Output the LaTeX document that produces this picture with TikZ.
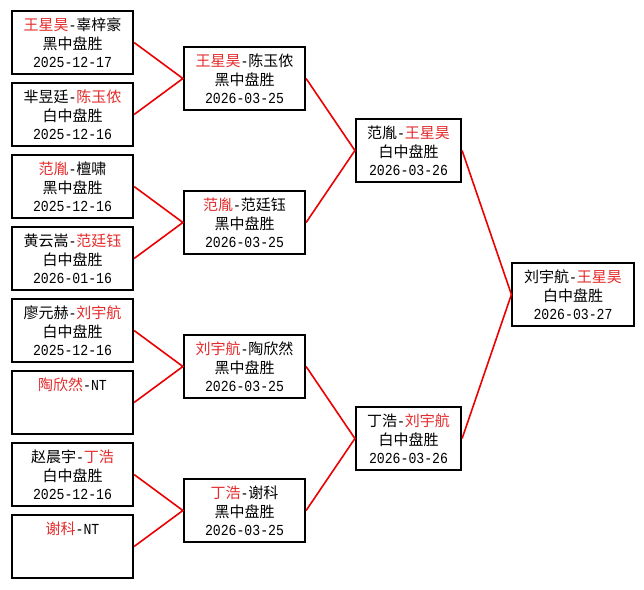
\documentclass[tikz,border=0pt]{standalone}
\usepackage{fontspec}
\setmainfont{Noto Sans CJK SC}
\newfontfamily\monof[FakeStretch=0.86]{Liberation Mono}
\definecolor{wred}{RGB}{228,44,44}
\definecolor{lred}{RGB}{236,0,0}
\newcommand\st{\rule[-1.6pt]{0pt}{16.6pt}}
\newcommand\R[1]{\textcolor{wred}{#1}}
\newcommand\hy{{\monof\fontsize{15.3}{18.5}\selectfont -}}
\newcommand\dt[1]{{\monof\fontsize{15.3}{18.5}\selectfont #1}}
\newcommand\card[3]{\st#1\\\st#2\\\st\dt{#3}}
\newcommand\cardnt[1]{\st#1\hy{\monof\fontsize{15.3}{18.5}\selectfont NT}\\\st\\\st}
\begin{document}
\begin{tikzpicture}[x=1pt,y=-1pt,
  box/.style={draw=black, line width=1.7pt, fill=white, minimum height=63.5pt,
    inner sep=0pt, align=center, font=\fontsize{15}{18.5}\selectfont},
  wa/.style={box, minimum width=121.5pt},
  wb/.style={box, minimum width=105.5pt},
  link/.style={draw=lred, line width=1.6pt}]
\useasboundingbox (0,0) rectangle (644,589);
\fill[white] (0,0) rectangle (644,589);
% round 1
\node[wa] (a1) at (72.5,42.5)  {\card{\R{王星昊}\hy 辜梓豪}{黑中盘胜}{2025-12-17}};
\node[wa] (a2) at (72.5,114.5) {\card{芈昱廷\hy\R{陈玉侬}}{白中盘胜}{2025-12-16}};
\node[wa] (a3) at (72.5,186.5) {\card{\R{范胤}\hy 檀啸}{黑中盘胜}{2025-12-16}};
\node[wa] (a4) at (72.5,258.5) {\card{黄云嵩\hy\R{范廷钰}}{白中盘胜}{2026-01-16}};
\node[wa] (a5) at (72.5,330.5) {\card{廖元赫\hy\R{刘宇航}}{白中盘胜}{2025-12-16}};
\node[wa] (a6) at (72.5,402.5) {\cardnt{\R{陶欣然}}};
\node[wa] (a7) at (72.5,474.5) {\card{赵晨宇\hy\R{丁浩}}{白中盘胜}{2025-12-16}};
\node[wa] (a8) at (72.5,546.5) {\cardnt{\R{谢科}}};
% round 2
\node[wa] (b1) at (244.5,78.5)  {\card{\R{王星昊}\hy 陈玉侬}{黑中盘胜}{2026-03-25}};
\node[wa] (b2) at (244.5,222.5) {\card{\R{范胤}\hy 范廷钰}{黑中盘胜}{2026-03-25}};
\node[wa] (b3) at (244.5,366.5) {\card{\R{刘宇航}\hy 陶欣然}{黑中盘胜}{2026-03-25}};
\node[wa] (b4) at (244.5,510.5) {\card{\R{丁浩}\hy 谢科}{黑中盘胜}{2026-03-25}};
% round 3
\node[wb] (c1) at (408.5,150.5) {\card{范胤\hy\R{王星昊}}{白中盘胜}{2026-03-26}};
\node[wb] (c2) at (408.5,438.5) {\card{丁浩\hy\R{刘宇航}}{白中盘胜}{2026-03-26}};
% final
\node[wa] (d1) at (573,294.5) {\card{刘宇航\hy\R{王星昊}}{白中盘胜}{2026-03-27}};
% connectors
\draw[link] (a1.east) -- (b1.west) -- (a2.east);
\draw[link] (a3.east) -- (b2.west) -- (a4.east);
\draw[link] (a5.east) -- (b3.west) -- (a6.east);
\draw[link] (a7.east) -- (b4.west) -- (a8.east);
\draw[link] (b1.east) -- (c1.west) -- (b2.east);
\draw[link] (b3.east) -- (c2.west) -- (b4.east);
\draw[link] (c1.east) -- (d1.west) -- (c2.east);
\end{tikzpicture}
\end{document}
